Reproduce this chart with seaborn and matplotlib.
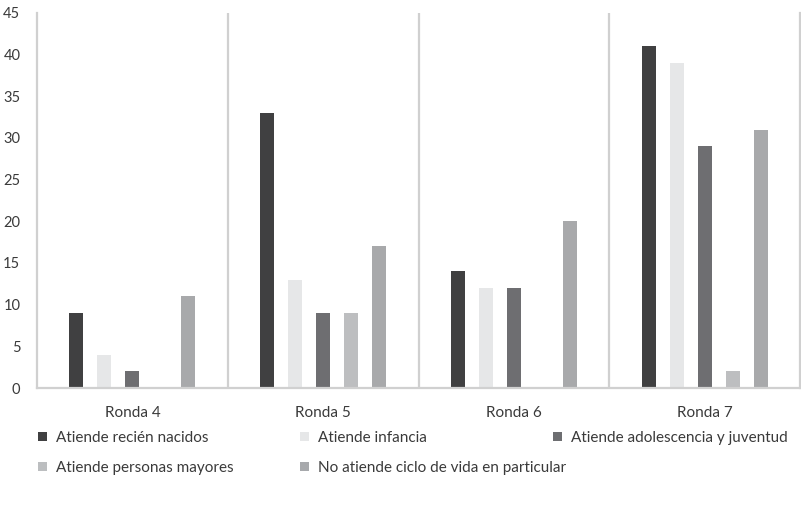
import matplotlib
matplotlib.use("Agg")
import matplotlib.pyplot as plt
import seaborn as sns
import pandas as pd
from matplotlib.patches import Patch

rondas = ["Ronda 4", "Ronda 5", "Ronda 6", "Ronda 7"]
series = [
    "Atiende recién nacidos",
    "Atiende infancia",
    "Atiende adolescencia y juventud",
    "Atiende personas mayores",
    "No atiende ciclo de vida en particular",
]
recien_nacidos = [9, 33, 14, 41]
infancia = [4, 13, 12, 39]
adolescencia = [2, 9, 12, 29]
personas_mayores = [0, 9, 0, 2]
no_atiende = [11, 17, 20, 31]
yticks = [0, 5, 10, 15, 20, 25, 30, 35, 40, 45]

colors = ["#404041", "#e6e7e8", "#6d6e71", "#bcbec0", "#a7a9ac"]

values = [recien_nacidos, infancia, adolescencia, personas_mayores, no_atiende]
rows = []
for name, vals in zip(series, values):
    for r, v in zip(rondas, vals):
        rows.append({"Ronda": r, "Serie": name, "Valor": v})
df = pd.DataFrame(rows)

sns.set_style("white")
plt.rcParams["font.family"] = ["Lato", "DejaVu Sans"]
text_color = "#3a3a3a"
line_color = "#d0d0d0"

W, H = 801, 507
fig = plt.figure(figsize=(W / 100, H / 100), dpi=100)
ax = fig.add_axes([0.0462, 0.2347, 0.9526, 0.7397])

sns.barplot(data=df, x="Ronda", y="Valor", hue="Serie", order=rondas,
            hue_order=series, palette=colors, width=0.733, gap=0.5,
            linewidth=0, ax=ax, legend=False)

ax.set_xlim(-0.5, 3.5)
ax.set_ylim(0, 45)
ax.set_yticks(yticks)
ax.set_yticklabels([str(t) for t in yticks])
ax.set_xlabel("")
ax.set_ylabel("")

for xv in [0.5, 1.5, 2.5]:
    ax.axvline(xv, color=line_color, lw=1.6, zorder=0)
for side in ["left", "right", "bottom"]:
    ax.spines[side].set_color(line_color)
    ax.spines[side].set_linewidth(1.6)
ax.spines["top"].set_visible(False)

ax.tick_params(axis="x", length=0, labelsize=11, colors=text_color, pad=13)
ax.tick_params(axis="y", length=0, labelsize=10.5, colors=text_color, pad=12)

# legend entries laid out on a 3-column grid, row by row
entry_pos = [(38, 438), (300, 438), (553, 438), (38, 468), (300, 468)]
for name, col, (px, py) in zip(series, colors, entry_pos):
    leg = fig.legend([Patch(facecolor=col, edgecolor="none")], [name],
                     loc="center left", bbox_to_anchor=(px / W, 1 - py / H),
                     frameon=False, fontsize=11, handlelength=0.6,
                     handleheight=0.6, handletextpad=0.55, borderpad=0,
                     borderaxespad=0, labelcolor=text_color)

fig.savefig("out.png", dpi=100)
